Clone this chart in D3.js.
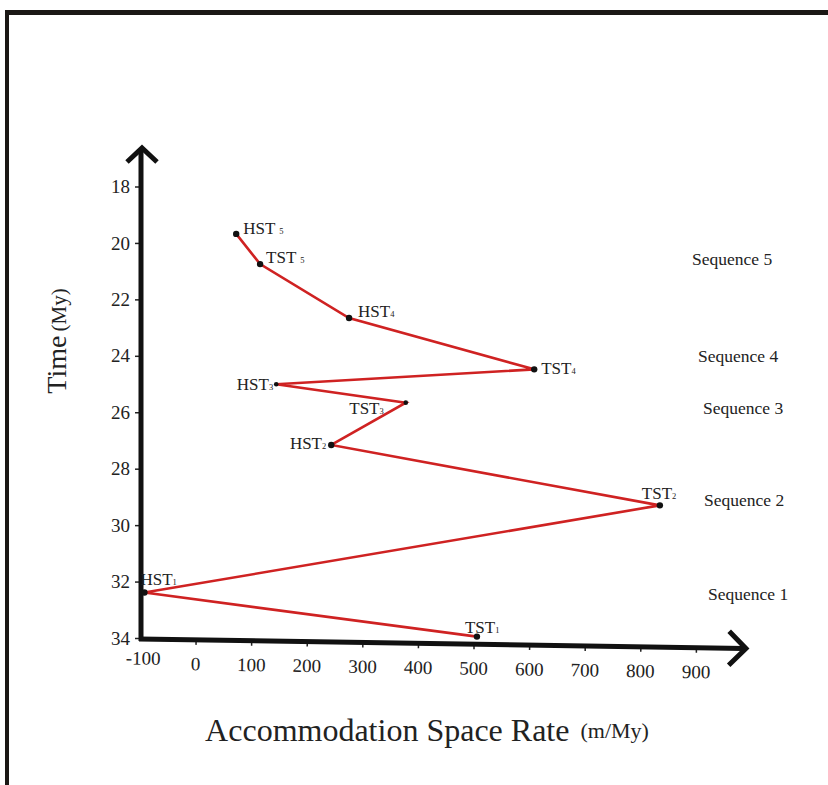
<!DOCTYPE html>
<html>
<head>
<meta charset="utf-8">
<script src="https://cdn.jsdelivr.net/npm/d3@7"></script>
<style>
  body { margin: 0; background: #fff; }
  svg text { font-family: "Liberation Serif", "Times New Roman", serif; fill: #222; }
</style>
</head>
<body>
<div id="chart"></div>
<script>
// systems tracts (time in My, rate in m/My)
const tractNames = ["TST", "HST", "TST", "HST", "TST", "HST", "TST", "HST", "TST", "HST"];
const tractIndex = ["1", "1", "2", "2", "3", "3", "4", "4", "5", "5"];
const rateValues = [506, -92, 835, 244, 378, 145, 609, 276, 116, 73];
const timeValues = [33.95, 32.39, 29.3, 27.16, 25.66, 25.01, 24.48, 22.66, 20.75, 19.68];

const sequenceNames = ["Sequence 1", "Sequence 2", "Sequence 3", "Sequence 4", "Sequence 5"];
const sequenceTimes = [32.44, 29.11, 25.85, 24.0, 20.57];

const xTicks = [-100, 0, 100, 200, 300, 400, 500, 600, 700, 800, 900];
const yTicks = [18, 20, 22, 24, 26, 28, 30, 32, 34];

const width = 828, height = 785;
const serif = '"Liberation Serif", "Times New Roman", serif';

const svg = d3.select("#chart").append("svg")
  .attr("width", width)
  .attr("height", height);

// frame (only top and left edges show in the scan)
svg.append("rect").attr("x", 5).attr("y", 10).attr("width", width - 5).attr("height", 5).attr("fill", "#1b1815");
svg.append("rect").attr("x", 5).attr("y", 10).attr("width", 4).attr("height", height - 10).attr("fill", "#1b1815");

let x = d3.scaleLinear().domain([-100, 900]).range([140, 696]);
let y = d3.scaleLinear().domain([18, 34]).range([186.5, 638]);

// y axis
let yAxis = svg.append("g")
  .attr("transform", "translate(141,0)")
  .call(d3.axisLeft(y).tickValues(yTicks).tickSize(6).tickPadding(5).tickFormat(d => String(d)))
  .attr("font-family", serif);
yAxis.select(".domain").remove();
yAxis.selectAll(".tick line").attr("stroke", "#222").attr("stroke-width", 1.5);
yAxis.selectAll(".tick text").style("font-family", serif).style("font-size", "19px").attr("fill", "#222");

svg.append("line")
  .attr("x1", 141).attr("x2", 141)
  .attr("y1", 150).attr("y2", 641)
  .attr("stroke", "#111").attr("stroke-width", 5);
svg.append("path")
  .attr("d", "M127,162 L142,148 L157,162")
  .attr("fill", "none").attr("stroke", "#111").attr("stroke-width", 5);

// x axis, drawn slightly tilted like the scanned figure
let xg = svg.append("g").attr("transform", "rotate(0.9,141,639)");
let xAxis = xg.append("g")
  .attr("transform", "translate(0,639)")
  .call(d3.axisBottom(x).tickValues(xTicks).tickSize(5).tickPadding(12).tickFormat(d => String(d)))
  .attr("font-family", serif);
xAxis.select(".domain").remove();
xAxis.selectAll(".tick line").attr("stroke", "#222").attr("stroke-width", 1.5);
xAxis.selectAll(".tick text").style("font-family", serif).style("font-size", "19px").attr("fill", "#222");
xAxis.selectAll(".tick").filter(d => d === -100).select("line").remove();
xAxis.selectAll(".tick").filter(d => d === -100).select("text").attr("dx", 3).attr("dy", "0.45em");

xg.append("line")
  .attr("x1", 139).attr("x2", 744)
  .attr("y1", 639).attr("y2", 639)
  .attr("stroke", "#111").attr("stroke-width", 5);
xg.append("path")
  .attr("d", "M729,622 L746,639 L729,656")
  .attr("fill", "none").attr("stroke", "#111").attr("stroke-width", 5);

// data
let points = rateValues.map((v, i) => ({
  name: tractNames[i], idx: tractIndex[i], rate: v, time: timeValues[i]
}));

let line = d3.line().x(d => x(d.rate)).y(d => y(d.time));
svg.append("path")
  .datum(points)
  .attr("d", line)
  .attr("fill", "none")
  .attr("stroke", "#cf2222")
  .attr("stroke-width", 2.6)
  .attr("stroke-linejoin", "miter");

svg.selectAll("circle.pt")
  .data(points)
  .enter().append("circle")
  .attr("class", "pt")
  .attr("cx", d => x(d.rate))
  .attr("cy", d => y(d.time))
  .attr("r", d => (d.name + d.idx === "HST3" || d.name + d.idx === "TST3") ? 2.3 : 3.2)
  .attr("fill", "#111");

// label placement for each tract: [dx, dy, anchor]
const labelPlace = {
  "TST1": [-12, -4, "start"],
  "HST1": [-4, -8, "start"],
  "TST2": [-18, -6, "start"],
  "HST2": [-5, 4, "end"],
  "TST3": [-22, 11, "end"],
  "HST3": [-3, 6, "end"],
  "TST4": [7, 5, "start"],
  "HST4": [9, -1, "start"],
  "TST5": [6, -1, "start"],
  "HST5": [7, 0, "start"]
};

let labels = svg.selectAll("text.tract")
  .data(points)
  .enter().append("text")
  .attr("class", "tract")
  .attr("x", d => x(d.rate) + labelPlace[d.name + d.idx][0])
  .attr("y", d => y(d.time) + labelPlace[d.name + d.idx][1])
  .attr("text-anchor", d => labelPlace[d.name + d.idx][2])
  .style("font-size", "17px");
labels.append("tspan").text(d => d.name);
labels.append("tspan")
  .style("font-size", "8.5px")
  .attr("dx", d => d.idx === "5" ? 4 : 0)
  .text(d => d.idx);

// sequence labels
const seqX = [708, 704, 703, 698, 692];
svg.selectAll("text.seq")
  .data(sequenceNames)
  .enter().append("text")
  .attr("class", "seq")
  .attr("x", (d, i) => seqX[i])
  .attr("y", (d, i) => y(sequenceTimes[i]))
  .attr("dy", "0.35em")
  .style("font-size", "17.5px")
  .text(d => d);

// axis titles
let xt = svg.append("text")
  .attr("x", 427).attr("y", 741)
  .attr("text-anchor", "middle");
xt.append("tspan").style("font-size", "32px").text("Accommodation Space Rate");
xt.append("tspan").style("font-size", "22px").attr("dx", 11).attr("dy", -3).text("(m/My)");

let yt = svg.append("text")
  .attr("transform", "translate(66,341) rotate(-90)")
  .attr("text-anchor", "middle");
yt.append("tspan").style("font-size", "28px").text("Time");
yt.append("tspan").style("font-size", "21px").attr("dx", 4).text("(My)");
</script>
</body>
</html>
